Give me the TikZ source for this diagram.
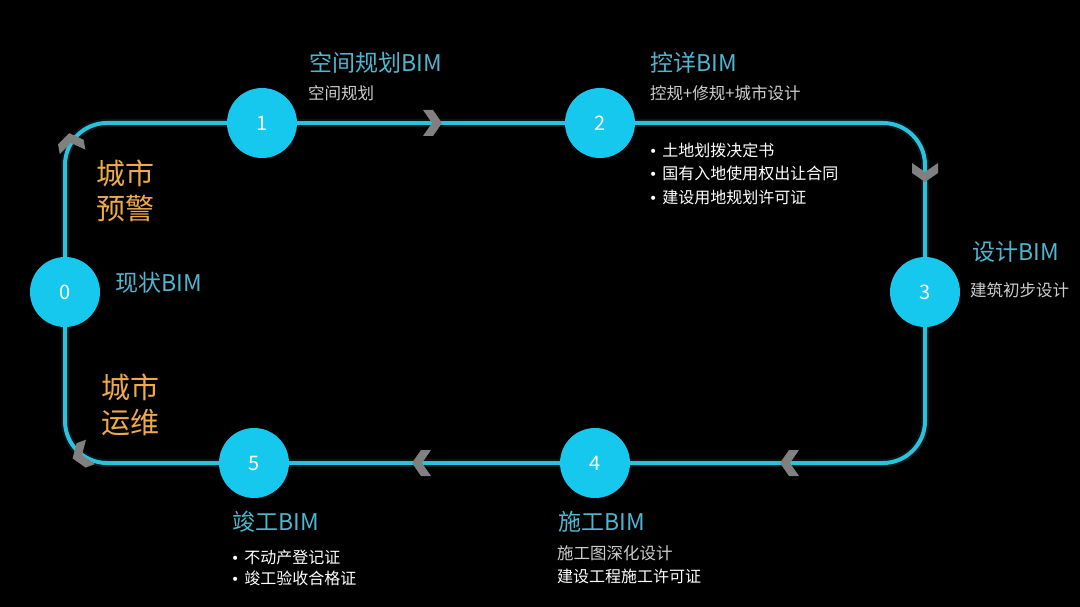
\documentclass[tikz,border=0pt]{standalone}
\usepackage{fontspec}
\newfontfamily\cjk{Noto Sans CJK SC}
\newfontfamily\dejavu{DejaVu Sans}
\definecolor{linecyan}{RGB}{44,194,222}
\definecolor{circcyan}{RGB}{22,200,238}
\definecolor{titlecyan}{RGB}{78,182,208}
\definecolor{softgray}{RGB}{205,205,205}
\definecolor{chevgray}{RGB}{128,128,128}
\definecolor{warmorange}{RGB}{238,170,72}
\newcommand{\bul}{{\dejavu\fontsize{14}{14}\selectfont •}\hspace{5pt}}
\tikzset{
  stagecirc/.style={circle, fill=circcyan, minimum size=70pt, inner sep=0pt, text=white, font=\cjk\fontsize{20}{20}\selectfont},
  looppath/.style={draw=linecyan, line width=4pt, rounded corners=42pt},
  glowpath/.style={draw=linecyan, line width=8pt, opacity=0.12, rounded corners=42pt},
  titletxt/.style={anchor=west, inner sep=0pt, text=titlecyan, font=\cjk\fontsize{23}{23}\selectfont},
  subtxt/.style={anchor=west, inner sep=0pt, text=softgray, font=\cjk\fontsize{16.5}{16.5}\selectfont},
  whitetxt/.style={anchor=west, inner sep=0pt, text=white, font=\cjk\fontsize{16}{16}\selectfont},
  orangetxt/.style={anchor=west, inner sep=0pt, text=warmorange, align=left, font=\cjk\fontsize{29}{35}\selectfont},
  chev/.pic={\fill[chevgray] (-9,-13) -- (1,-13) -- (10,0) -- (1,13) -- (-9,13) -- (0,0) -- cycle;}
}
\begin{document}
\begin{tikzpicture}[x=1pt,y=-1pt]
\fill[black] (0,0) rectangle (1080,607);
\useasboundingbox (0,0) rectangle (1080,607);
% stage nodes
\node[stagecirc] (n0) at (65,292) {0};
\node[stagecirc] (n1) at (262,123) {1};
\node[stagecirc] (n2) at (600,123) {2};
\node[stagecirc] (n3) at (925,292) {3};
\node[stagecirc] (n4) at (595,463) {4};
\node[stagecirc] (n5) at (254,463) {5};
% loop connectors
\foreach \st in {glowpath,looppath}{
  \path[\st] (n0) |- (n1);
  \path[\st] (n1) -- (n2);
  \path[\st] (n2) -| (n3);
  \path[\st] (n3) |- (n4);
  \path[\st] (n4) -- (n5);
  \path[\st] (n5) -| (n0);
}
% chevrons
\pic at (432,123) {chev};
\pic[rotate=-90] at (925,172) {chev};
\pic[rotate=180] at (790,463) {chev};
\pic[rotate=180] at (422,463) {chev};
\pic[rotate=100] at (71,143) {chev};
\pic[rotate=200] at (82,455) {chev};
% texts
\node[titletxt] (t1) at (309,63) {空间规划BIM};
\node[subtxt] (s1) at (308,93) {空间规划};
\node[titletxt] (t2) at (650,63) {控详BIM};
\node[subtxt] (s2) at (650,93) {控规+修规+城市设计};
\node[whitetxt] (b21) at (649,150) {\bul 土地划拨决定书};
\node[whitetxt] (b22) at (649,173) {\bul 国有入地使用权出让合同};
\node[whitetxt] (b23) at (649,197) {\bul 建设用地规划许可证};
\node[titletxt] (t3) at (972,252) {设计BIM};
\node[subtxt] (s3) at (970,290) {建筑初步设计};
\node[titletxt] (t0) at (115,283) {现状BIM};
\node[orangetxt] (o1) at (96,191) {城市\\预警};
\node[orangetxt] (o2) at (101,405) {城市\\运维};
\node[titletxt] (t4) at (558,522) {施工BIM};
\node[subtxt] (s4) at (557,553) {施工图深化设计};
\node[whitetxt] (w4) at (557,576) {建设工程施工许可证};
\node[titletxt] (t5) at (232,522) {竣工BIM};
\node[whitetxt] (b51) at (231,557) {\bul 不动产登记证};
\node[whitetxt] (b52) at (231,578) {\bul 竣工验收合格证};
\end{tikzpicture}
\end{document}
